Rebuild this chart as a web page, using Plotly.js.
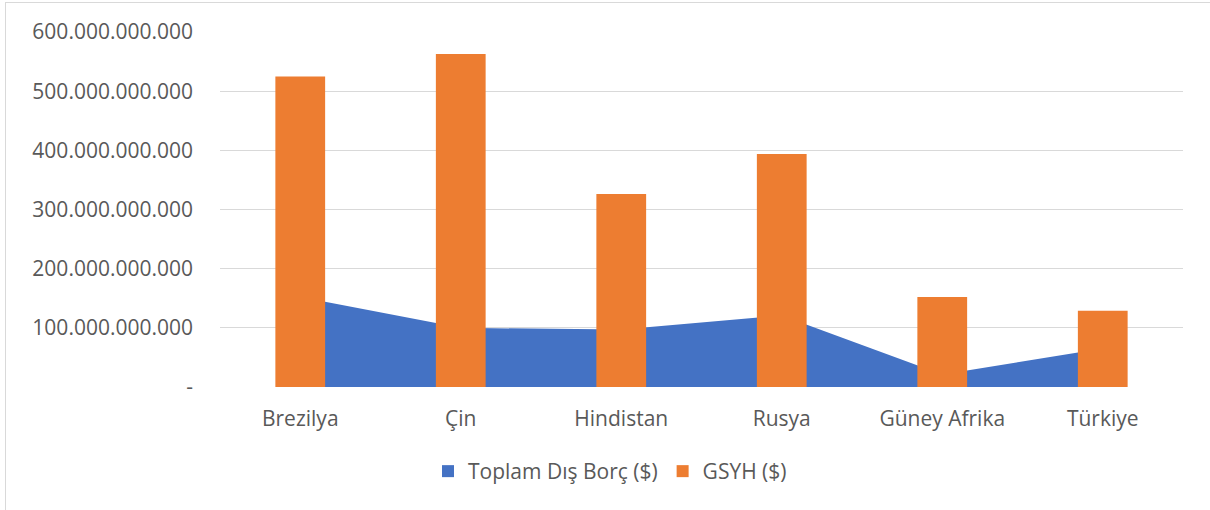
<!DOCTYPE html>
<html>
<head>
<meta charset="utf-8">
<script src="https://cdn.plot.ly/plotly-3.0.1.min.js"></script>
<style>
  html, body { margin: 0; padding: 0; background: #fff; }
  #wrap { position: relative; width: 1210px; height: 510px; }
  #chart { position: absolute; left: 0; top: 0; width: 1210px; height: 510px; }
  #bt { position: absolute; left: 5px; top: 2px; width: 1205px; height: 1px; background: #d9d9d9; }
  #bl { position: absolute; left: 5px; top: 2px; width: 1px; height: 508px; background: #d9d9d9; }
</style>
</head>
<body>
<div id="wrap">
  <div id="chart"></div>
  <div id="bt"></div>
  <div id="bl"></div>
</div>
<script>
const categories = ["Brezilya", "Çin", "Hindistan", "Rusya", "Güney Afrika", "Türkiye"];
const debt = [152e9, 100e9, 97e9, 121e9, 21e9, 65e9];
const gdp = [525e9, 563e9, 326e9, 394e9, 152e9, 129e9];
const yTickVals = [0, 100e9, 200e9, 300e9, 400e9, 500e9, 600e9];
const yTickText = ["-", "100.000.000.000", "200.000.000.000", "300.000.000.000", "400.000.000.000", "500.000.000.000", "600.000.000.000"];
const seriesNames = ["Toplam Dış Borç ($)", "GSYH ($)"];

const blue = "#4472C4";
const orange = "#ED7D31";
const font = "Open Sans, Noto Sans, sans-serif";
const fs = 21;

const traces = [
  {
    type: "scatter", x: categories, y: debt, mode: "lines",
    fill: "tozeroy", fillcolor: blue, line: {width: 0, color: blue},
    name: seriesNames[0], showlegend: false, hoverinfo: "skip",
    xaxis: "x", yaxis: "y"
  },
  {
    type: "bar", x: categories, y: gdp, name: seriesNames[1],
    marker: {color: orange, line: {width: 0}}, width: 0.31,
    xaxis: "x2", yaxis: "y2", legendrank: 2
  },
  {
    type: "scatter", x: [null], y: [null], mode: "markers",
    marker: {symbol: "square", size: 12, color: blue},
    name: seriesNames[0], legendrank: 1, xaxis: "x", yaxis: "y"
  }
];

const layout = {
  width: 1210, height: 510,
  margin: {l: 220, r: 27, t: 32, b: 123},
  paper_bgcolor: "rgba(0,0,0,0)", plot_bgcolor: "#fff",
  font: {family: font, size: fs, color: "#595959"},
  showlegend: true,
  legend: {
    orientation: "h", x: 0.405, xanchor: "center", y: -0.238, yanchor: "middle",
    font: {family: font, size: fs, color: "#595959"},
    traceorder: "normal", itemwidth: 30
  },
  xaxis: {
    type: "category", categoryarray: categories, categoryorder: "array",
    range: [-0.5, 5.5], showgrid: false, zeroline: false,
    showline: false, ticks: "", ticklabelstandoff: 17,
    tickfont: {family: font, size: fs, color: "#595959"}
  },
  yaxis: {
    range: [0, 600e9], tickvals: yTickVals, ticktext: yTickText,
    showgrid: true, gridcolor: "#d9d9d9", gridwidth: 1, zeroline: false,
    showline: false, ticks: "", ticklabelstandoff: 26,
    tickfont: {family: font, size: fs, color: "#595959"}
  },
  xaxis2: {
    type: "category", categoryarray: categories, categoryorder: "array",
    overlaying: "x", range: [-0.5, 5.5], showgrid: false, zeroline: false,
    showline: false, showticklabels: false, ticks: ""
  },
  yaxis2: {
    overlaying: "y", range: [0, 600e9], showgrid: false, zeroline: false,
    showline: false, showticklabels: false, ticks: ""
  },
  bargap: 0.69
};

Plotly.newPlot("chart", traces, layout, {displayModeBar: false, staticPlot: true});
</script>
</body>
</html>
